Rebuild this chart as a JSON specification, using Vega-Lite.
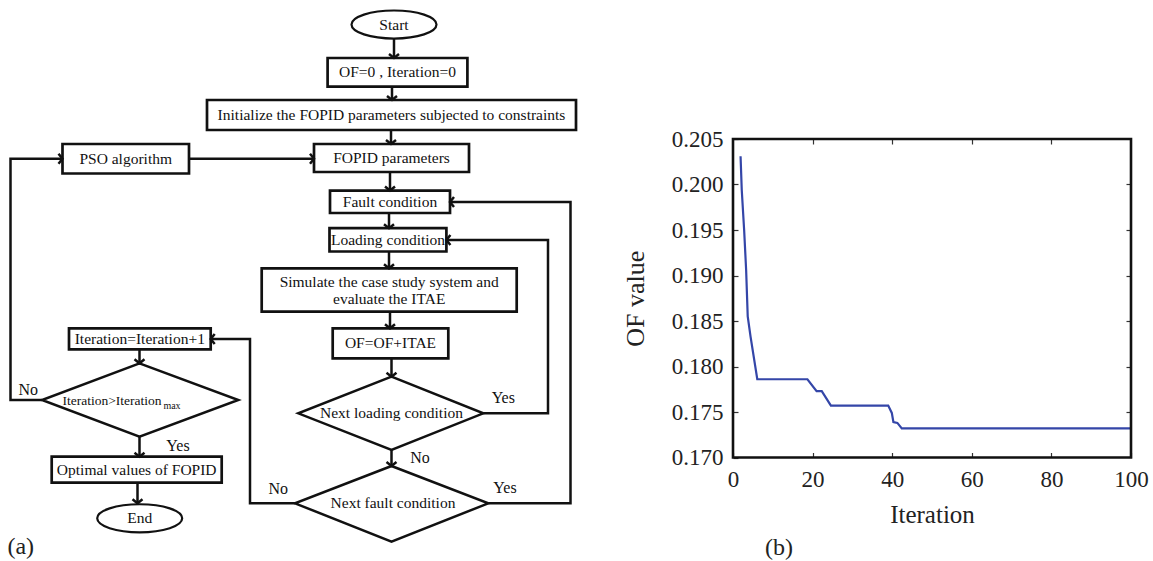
{
  "$schema": "https://vega.github.io/schema/vega-lite/v6.json",
  "width": 1153,
  "height": 561,
  "padding": 0,
  "autosize": {"type": "fit", "contains": "padding"},
  "background": "white",
  "config": {"view": {"stroke": null}, "font": "Liberation Serif, Times New Roman, serif"},
  "datasets": {
    "boxes": [
      {"name": "of0", "x1": 327.6, "x2": 467.4, "y1": 58, "y2": 86.6},
      {"name": "init", "x1": 207, "x2": 576, "y1": 100, "y2": 130},
      {"name": "pso", "x1": 62.5, "x2": 189, "y1": 144, "y2": 173.5},
      {"name": "fopid", "x1": 314, "x2": 469, "y1": 144, "y2": 172},
      {"name": "fault", "x1": 330, "x2": 450, "y1": 190.6, "y2": 213},
      {"name": "loading", "x1": 329.5, "x2": 446.4, "y1": 228.2, "y2": 251.5},
      {"name": "simulate", "x1": 261.7, "x2": 516.7, "y1": 268.3, "y2": 311.7},
      {"name": "ofitae", "x1": 332.7, "x2": 448.3, "y1": 328.3, "y2": 358.3},
      {"name": "iterinc", "x1": 69, "x2": 210.7, "y1": 328.3, "y2": 349.3},
      {"name": "optimal", "x1": 51.7, "x2": 221.7, "y1": 456.7, "y2": 482.7}
    ],
    "ellipses": [
      {"name": "start", "x": 394, "y": 24.5},
      {"name": "end", "x": 139.7, "y": 518.3}
    ],
    "links": [
      {"id": "L1", "o": 1, "x": 394, "y": 37.5}, {"id": "L1", "o": 2, "x": 394, "y": 58},
      {"id": "L2", "o": 1, "x": 392, "y": 86.6}, {"id": "L2", "o": 2, "x": 392, "y": 100},
      {"id": "L3", "o": 1, "x": 391, "y": 130}, {"id": "L3", "o": 2, "x": 391, "y": 144},
      {"id": "L4", "o": 1, "x": 390, "y": 172}, {"id": "L4", "o": 2, "x": 390, "y": 190.6},
      {"id": "L5", "o": 1, "x": 389, "y": 213}, {"id": "L5", "o": 2, "x": 389, "y": 228.2},
      {"id": "L6", "o": 1, "x": 389, "y": 251.5}, {"id": "L6", "o": 2, "x": 389, "y": 268.3},
      {"id": "L7", "o": 1, "x": 390, "y": 311.7}, {"id": "L7", "o": 2, "x": 390, "y": 328.3},
      {"id": "L8", "o": 1, "x": 391.5, "y": 358.3}, {"id": "L8", "o": 2, "x": 391.5, "y": 376.7},
      {"id": "L9", "o": 1, "x": 391.5, "y": 450}, {"id": "L9", "o": 2, "x": 391.5, "y": 466},
      {"id": "L10", "o": 1, "x": 483.3, "y": 413.3}, {"id": "L10", "o": 2, "x": 548, "y": 413.3}, {"id": "L10", "o": 3, "x": 548, "y": 240}, {"id": "L10", "o": 4, "x": 446.4, "y": 240},
      {"id": "L11", "o": 1, "x": 488.3, "y": 503.3}, {"id": "L11", "o": 2, "x": 570.5, "y": 503.3}, {"id": "L11", "o": 3, "x": 570.5, "y": 202}, {"id": "L11", "o": 4, "x": 450, "y": 202},
      {"id": "L12", "o": 1, "x": 295, "y": 503.3}, {"id": "L12", "o": 2, "x": 250, "y": 503.3}, {"id": "L12", "o": 3, "x": 250, "y": 339}, {"id": "L12", "o": 4, "x": 210.7, "y": 339},
      {"id": "L13", "o": 1, "x": 139.5, "y": 349.3}, {"id": "L13", "o": 2, "x": 139.5, "y": 363.3},
      {"id": "L14", "o": 1, "x": 42, "y": 400}, {"id": "L14", "o": 2, "x": 10.5, "y": 400}, {"id": "L14", "o": 3, "x": 10.5, "y": 158.7}, {"id": "L14", "o": 4, "x": 62.5, "y": 158.7},
      {"id": "L15", "o": 1, "x": 189, "y": 158.7}, {"id": "L15", "o": 2, "x": 314, "y": 158.7},
      {"id": "L16", "o": 1, "x": 139.5, "y": 436.7}, {"id": "L16", "o": 2, "x": 139.5, "y": 456.7},
      {"id": "L17", "o": 1, "x": 137.5, "y": 482.7}, {"id": "L17", "o": 2, "x": 137.5, "y": 503.3},
      {"id": "D1", "o": 1, "x": 139.5, "y": 363.3}, {"id": "D1", "o": 2, "x": 238.3, "y": 400}, {"id": "D1", "o": 3, "x": 139.5, "y": 436.7}, {"id": "D1", "o": 4, "x": 42, "y": 400}, {"id": "D1", "o": 5, "x": 139.5, "y": 363.3},
      {"id": "D2", "o": 1, "x": 391.5, "y": 376.7}, {"id": "D2", "o": 2, "x": 483.3, "y": 413.3}, {"id": "D2", "o": 3, "x": 391.5, "y": 450}, {"id": "D2", "o": 4, "x": 298.3, "y": 413.3}, {"id": "D2", "o": 5, "x": 391.5, "y": 376.7},
      {"id": "D3", "o": 1, "x": 391.5, "y": 466}, {"id": "D3", "o": 2, "x": 488.3, "y": 503.3}, {"id": "D3", "o": 3, "x": 391.5, "y": 541.7}, {"id": "D3", "o": 4, "x": 295, "y": 503.3}, {"id": "D3", "o": 5, "x": 391.5, "y": 466}
    ],
    "arrows": [
      {"dir": "down", "x": 394, "y": 58},
      {"dir": "down", "x": 392, "y": 100},
      {"dir": "down", "x": 391, "y": 144},
      {"dir": "down", "x": 390, "y": 190.6},
      {"dir": "down", "x": 389, "y": 228.2},
      {"dir": "down", "x": 389, "y": 268.3},
      {"dir": "down", "x": 390, "y": 328.3},
      {"dir": "down", "x": 391.5, "y": 376.7},
      {"dir": "down", "x": 391.5, "y": 466},
      {"dir": "down", "x": 139.5, "y": 363.3},
      {"dir": "down", "x": 139.5, "y": 456.7},
      {"dir": "down", "x": 137.5, "y": 503.3},
      {"dir": "left", "x": 446.4, "y": 240},
      {"dir": "left", "x": 450, "y": 202},
      {"dir": "left", "x": 210.7, "y": 339},
      {"dir": "right", "x": 62.5, "y": 158.7},
      {"dir": "right", "x": 314, "y": 158.7}
    ],
    "texts": [
      {"t": "Start", "x": 394, "y": 24.5, "role": "box"},
      {"t": "OF=0 , Iteration=0", "x": 397.5, "y": 72.3, "role": "box"},
      {"t": "Initialize the FOPID parameters subjected to constraints", "x": 391.5, "y": 115, "role": "box"},
      {"t": "PSO algorithm", "x": 125.7, "y": 158.7, "role": "box"},
      {"t": "FOPID parameters", "x": 391.5, "y": 158, "role": "box"},
      {"t": "Fault condition", "x": 390, "y": 201.8, "role": "box"},
      {"t": "Loading condition", "x": 388, "y": 239.8, "role": "box"},
      {"t": "Simulate the case study system and", "x": 389.2, "y": 281.7, "role": "box"},
      {"t": "evaluate the ITAE", "x": 389.2, "y": 299.3, "role": "box"},
      {"t": "OF=OF+ITAE", "x": 390.5, "y": 343.3, "role": "box"},
      {"t": "Iteration=Iteration+1", "x": 139.8, "y": 338.8, "role": "box"},
      {"t": "Next loading condition", "x": 391.5, "y": 413.3, "role": "box"},
      {"t": "Next fault condition", "x": 393, "y": 503.3, "role": "box"},
      {"t": "Optimal values of FOPID", "x": 136.7, "y": 469.7, "role": "box"},
      {"t": "End", "x": 139.7, "y": 518.3, "role": "box"},
      {"t": "Iteration>Iteration", "x": 112, "y": 400.5, "role": "dia"},
      {"t": "max", "x": 172, "y": 406, "role": "sub"},
      {"t": "No", "x": 28.3, "y": 390, "role": "lab"},
      {"t": "Yes", "x": 178, "y": 445.7, "role": "lab"},
      {"t": "Yes", "x": 503.3, "y": 398.3, "role": "lab"},
      {"t": "No", "x": 420, "y": 458.3, "role": "lab"},
      {"t": "No", "x": 278.3, "y": 489.3, "role": "lab"},
      {"t": "Yes", "x": 505, "y": 488.3, "role": "lab"},
      {"t": "(a)", "x": 20.7, "y": 546.7, "role": "panel"},
      {"t": "(b)", "x": 779, "y": 548, "role": "panel"}
    ],
    "conv": [
      {"iteration": 1.9, "of": 0.2031},
      {"iteration": 2.2, "of": 0.1994},
      {"iteration": 2.8, "of": 0.195},
      {"iteration": 3.3, "of": 0.1906},
      {"iteration": 3.7, "of": 0.1855},
      {"iteration": 4.4, "of": 0.1833},
      {"iteration": 6.1, "of": 0.1786},
      {"iteration": 18.7, "of": 0.1786},
      {"iteration": 21.0, "of": 0.1773},
      {"iteration": 22.3, "of": 0.1773},
      {"iteration": 24.6, "of": 0.1757},
      {"iteration": 39.0, "of": 0.1757},
      {"iteration": 39.9, "of": 0.1749},
      {"iteration": 40.3, "of": 0.1739},
      {"iteration": 41.3, "of": 0.1738},
      {"iteration": 42.4, "of": 0.1732},
      {"iteration": 100, "of": 0.1732}
    ]
  },
  "layer": [
    {
      "layer": [
        {
          "data": {"name": "links"},
          "mark": {"type": "line", "stroke": "#111", "strokeWidth": 2.5, "strokeJoin": "miter"},
          "encoding": {
            "x": {"field": "x", "type": "quantitative", "scale": {"domain": [0, 1153], "nice": false, "zero": false}, "axis": null},
            "y": {"field": "y", "type": "quantitative", "scale": {"domain": [0, 561], "nice": false, "zero": false, "reverse": true}, "axis": null},
            "detail": {"field": "id", "type": "nominal"},
            "order": {"field": "o", "type": "quantitative"}
          }
        },
        {
          "data": {"name": "boxes"},
          "mark": {"type": "rect", "fill": "white", "stroke": "#111", "strokeWidth": 2.7},
          "encoding": {
            "x": {"field": "x1", "type": "quantitative", "scale": {"domain": [0, 1153], "nice": false, "zero": false}, "axis": null},
            "x2": {"field": "x2"},
            "y": {"field": "y1", "type": "quantitative", "scale": {"domain": [0, 561], "nice": false, "zero": false, "reverse": true}, "axis": null},
            "y2": {"field": "y2"}
          }
        },
        {
          "data": {"name": "ellipses"},
          "mark": {"type": "point", "shape": "M-1,0A1,0.33,0,1,1,1,0A1,0.33,0,1,1,-1,0Z", "size": 7225, "filled": true, "fill": "white", "stroke": "#111", "strokeWidth": 2.2, "opacity": 1},
          "encoding": {
            "x": {"field": "x", "type": "quantitative", "scale": {"domain": [0, 1153], "nice": false, "zero": false}, "axis": null},
            "y": {"field": "y", "type": "quantitative", "scale": {"domain": [0, 561], "nice": false, "zero": false, "reverse": true}, "axis": null}
          }
        },
        {
          "data": {"name": "arrows"},
          "mark": {"type": "point", "filled": false, "stroke": "#111", "strokeWidth": 2.5, "size": 100, "opacity": 1, "strokeJoin": "miter"},
          "encoding": {
            "x": {"field": "x", "type": "quantitative", "scale": {"domain": [0, 1153], "nice": false, "zero": false}, "axis": null},
            "y": {"field": "y", "type": "quantitative", "scale": {"domain": [0, 561], "nice": false, "zero": false, "reverse": true}, "axis": null},
            "shape": {"field": "dir", "type": "nominal", "scale": {"domain": ["down", "left", "right"], "range": ["M-1,-0.8L0,0L1,-0.8", "M0.8,-1L0,0L0.8,1", "M-0.8,-1L0,0L-0.8,1"]}, "legend": null}
          }
        },
        {
          "data": {"name": "texts"},
          "transform": [{"filter": "datum.role === 'box'"}],
          "mark": {"type": "text", "fontSize": 15.5, "font": "Liberation Serif, Times New Roman, serif", "color": "#111", "align": "center", "baseline": "middle"},
          "encoding": {
            "x": {"field": "x", "type": "quantitative", "scale": {"domain": [0, 1153], "nice": false, "zero": false}, "axis": null},
            "y": {"field": "y", "type": "quantitative", "scale": {"domain": [0, 561], "nice": false, "zero": false, "reverse": true}, "axis": null},
            "text": {"field": "t", "type": "nominal"}
          }
        },
        {
          "data": {"name": "texts"},
          "transform": [{"filter": "datum.role === 'dia'"}],
          "mark": {"type": "text", "fontSize": 13.5, "font": "Liberation Serif, Times New Roman, serif", "color": "#111", "align": "center", "baseline": "middle"},
          "encoding": {
            "x": {"field": "x", "type": "quantitative", "scale": {"domain": [0, 1153], "nice": false, "zero": false}, "axis": null},
            "y": {"field": "y", "type": "quantitative", "scale": {"domain": [0, 561], "nice": false, "zero": false, "reverse": true}, "axis": null},
            "text": {"field": "t", "type": "nominal"}
          }
        },
        {
          "data": {"name": "texts"},
          "transform": [{"filter": "datum.role === 'sub'"}],
          "mark": {"type": "text", "fontSize": 10, "font": "Liberation Serif, Times New Roman, serif", "color": "#111", "align": "center", "baseline": "middle"},
          "encoding": {
            "x": {"field": "x", "type": "quantitative", "scale": {"domain": [0, 1153], "nice": false, "zero": false}, "axis": null},
            "y": {"field": "y", "type": "quantitative", "scale": {"domain": [0, 561], "nice": false, "zero": false, "reverse": true}, "axis": null},
            "text": {"field": "t", "type": "nominal"}
          }
        },
        {
          "data": {"name": "texts"},
          "transform": [{"filter": "datum.role === 'lab'"}],
          "mark": {"type": "text", "fontSize": 16, "font": "Liberation Serif, Times New Roman, serif", "color": "#111", "align": "center", "baseline": "middle"},
          "encoding": {
            "x": {"field": "x", "type": "quantitative", "scale": {"domain": [0, 1153], "nice": false, "zero": false}, "axis": null},
            "y": {"field": "y", "type": "quantitative", "scale": {"domain": [0, 561], "nice": false, "zero": false, "reverse": true}, "axis": null},
            "text": {"field": "t", "type": "nominal"}
          }
        },
        {
          "data": {"name": "texts"},
          "transform": [{"filter": "datum.role === 'panel'"}],
          "mark": {"type": "text", "fontSize": 24, "font": "Liberation Serif, Times New Roman, serif", "color": "#222", "align": "center", "baseline": "middle"},
          "encoding": {
            "x": {"field": "x", "type": "quantitative", "scale": {"domain": [0, 1153], "nice": false, "zero": false}, "axis": null},
            "y": {"field": "y", "type": "quantitative", "scale": {"domain": [0, 561], "nice": false, "zero": false, "reverse": true}, "axis": null},
            "text": {"field": "t", "type": "nominal"}
          }
        }
      ]
    },
    {
      "data": {"name": "conv"},
      "mark": {"type": "line", "color": "#3446a8", "strokeWidth": 2.2},
      "encoding": {
        "x": {
          "field": "iteration", "type": "quantitative",
          "scale": {"domain": [0, 100], "range": [733, 1131], "nice": false, "zero": false},
          "axis": {"orient": "bottom", "offset": -103.5, "values": [0, 20, 40, 60, 80, 100], "domain": false, "grid": false,
            "tickSize": -5, "tickWidth": 1.2, "tickColor": "#333", "labelPadding": 16, "labelFontSize": 23, "labelFont": "Liberation Serif, Times New Roman, serif",
            "labelColor": "#222", "labelFlush": false, "labelOverlap": false,
            "title": "Iteration", "titleFontSize": 25, "titleFontWeight": "normal", "titleFont": "Liberation Serif, Times New Roman, serif", "titleColor": "#222", "titlePadding": 11}
        },
        "y": {
          "field": "of", "type": "quantitative",
          "scale": {"domain": [0.17, 0.205], "range": [457.5, 139], "nice": false, "zero": false},
          "axis": {"orient": "left", "offset": -733, "values": [0.17, 0.175, 0.18, 0.185, 0.19, 0.195, 0.2, 0.205], "format": ".3f", "domain": false, "grid": false,
            "tickSize": -5, "tickWidth": 1.2, "tickColor": "#333", "labelPadding": 15, "labelFontSize": 23, "labelFont": "Liberation Serif, Times New Roman, serif",
            "labelColor": "#222", "labelOverlap": false, "labelFlush": false,
            "title": "OF value", "titleFontSize": 26, "titleFontWeight": "normal", "titleFont": "Liberation Serif, Times New Roman, serif", "titleColor": "#222", "titlePadding": 23}
        }
      }
    },
    {
      "data": {"values": [{}]},
      "mark": {"type": "rect", "fill": "transparent", "stroke": "#111", "strokeWidth": 2.6},
      "encoding": {
        "x": {"datum": 0, "type": "quantitative",
          "scale": {"domain": [0, 100], "range": [733, 1131], "nice": false, "zero": false},
          "axis": {"orient": "top", "offset": -139, "values": [20, 40, 60, 80], "labels": false, "domain": false, "grid": false, "tickSize": -5, "tickWidth": 1.2, "tickColor": "#333", "title": null}},
        "x2": {"datum": 100},
        "y": {"datum": 0.17, "type": "quantitative",
          "scale": {"domain": [0.17, 0.205], "range": [457.5, 139], "nice": false, "zero": false},
          "axis": {"orient": "right", "offset": -22, "values": [0.175, 0.18, 0.185, 0.19, 0.195, 0.2], "labels": false, "domain": false, "grid": false, "tickSize": -5, "tickWidth": 1.2, "tickColor": "#333", "title": null}},
        "y2": {"datum": 0.205}
      }
    }
  ],
  "resolve": {"scale": {"x": "independent", "y": "independent"}}
}
